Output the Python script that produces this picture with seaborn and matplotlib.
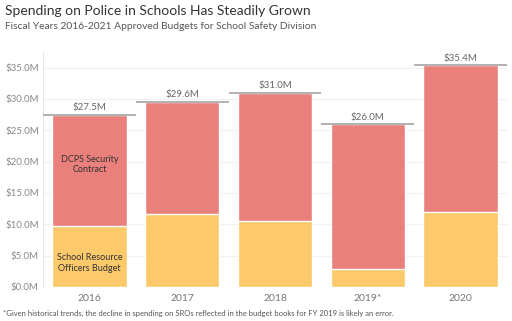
import matplotlib
matplotlib.use("Agg")
import matplotlib.pyplot as plt
import seaborn as sns
import pandas as pd

years = ["2016", "2017", "2018", "2019*", "2020"]
totals = [27.5, 29.6, 31.0, 26.0, 35.4]
sro = [9.7, 11.6, 10.6, 2.9, 11.9]
total_labels = ["$27.5M", "$29.6M", "$31.0M", "$26.0M", "$35.4M"]
yticks = [0, 5, 10, 15, 20, 25, 30, 35]

sns.set_theme(style="white")
plt.rcParams['font.family'] = ['Lato', 'DejaVu Sans']

RED = "#e9807b"
YEL = "#fcc96b"

df = pd.DataFrame({"year": years, "total": totals, "sro": sro})

fig = plt.figure(figsize=(5.12, 3.21), dpi=100)
ax = fig.add_axes([0.084, 0.106, 0.906, 0.732])

sns.barplot(data=df, x="year", y="total", color=RED, saturation=1, width=0.8, ax=ax, zorder=2)
sns.barplot(data=df, x="year", y="sro", color=YEL, saturation=1, width=0.8, ax=ax, zorder=3)

for i, (t, lab) in enumerate(zip(totals, total_labels)):
    ax.hlines(t, i - 0.5, i + 0.5, color="#aaaaaa", lw=1.3, zorder=4)
    ax.text(i, t + 0.4, lab, ha="center", va="bottom", fontsize=7, color="#666666")

ax.text(0, 19.5, "DCPS Security\nContract", ha="center", va="center", fontsize=6.5, color="#333333", zorder=5)
ax.text(0, 3.8, "School Resource\nOfficers Budget", ha="center", va="center", fontsize=6.5, color="#333333", zorder=5)

ax.set_xlim(-0.5, 4.5)
ax.set_ylim(0, 37.5)
ax.set_yticks(yticks)
ax.set_yticklabels([f"${v:.1f}M" for v in yticks], fontsize=7, color="#888888")
ax.tick_params(axis="x", labelsize=7.5, labelcolor="#777777", length=0, pad=5)
ax.tick_params(axis="y", length=0, pad=3)
ax.set_xlabel("")
ax.set_ylabel("")
ax.grid(axis="y", color="#f0f0f0", lw=0.8, zorder=0)
ax.set_axisbelow(True)
for s in ["top", "right", "bottom"]:
    ax.spines[s].set_visible(False)
ax.spines["left"].set_color("#e6e6e6")
ax.spines["left"].set_linewidth(0.8)

fig.text(0.01, 0.965, "Spending on Police in Schools Has Steadily Grown", fontsize=10, color="#333333", va="center")
fig.text(0.01, 0.917, "Fiscal Years 2016-2021 Approved Budgets for School Safety Division", fontsize=7.4, color="#555555", va="center")
fig.text(0.006, 0.025, "*Given historical trends, the decline in spending on SROs reflected in the budget books for FY 2019 is likely an error.",
         fontsize=5.5, color="#555555", va="center")

fig.savefig("out.png", dpi=100)
